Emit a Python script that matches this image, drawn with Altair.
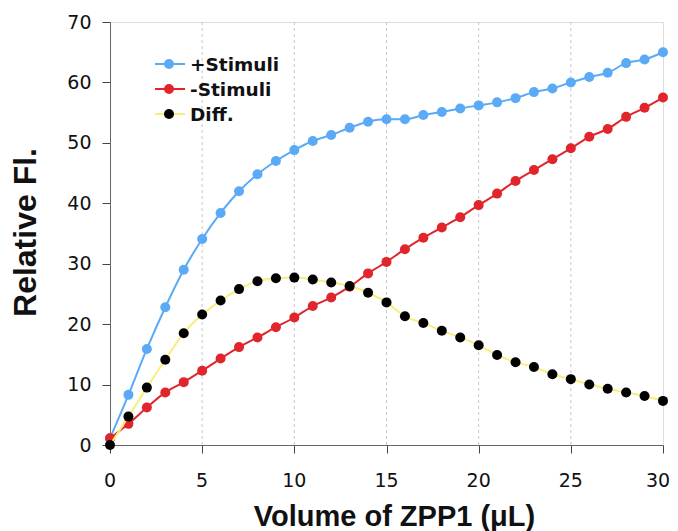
import altair as alt
import pandas as pd

x_vals = list(range(31))
plus_stimuli = [1.1, 8.3, 15.9, 22.8, 29.0, 34.1, 38.4, 42.0, 44.8, 47.0, 48.8, 50.3, 51.3, 52.5, 53.5, 53.9,
                53.9, 54.6, 55.1, 55.7, 56.2, 56.7, 57.4, 58.4, 59.0, 60.0, 60.9, 61.6, 63.2, 63.8, 65.0]
minus_stimuli = [1.1, 3.5, 6.2, 8.7, 10.4, 12.3, 14.3, 16.2, 17.8, 19.5, 21.1, 23.0, 24.4, 26.2, 28.4, 30.3,
                 32.4, 34.3, 36.0, 37.7, 39.7, 41.6, 43.7, 45.5, 47.3, 49.1, 51.0, 52.3, 54.3, 55.8, 57.5]
diff_vals = [0.0, 4.7, 9.5, 14.1, 18.5, 21.6, 23.9, 25.8, 27.1, 27.6, 27.7, 27.4, 26.9, 26.3, 25.2, 23.6,
             21.3, 20.2, 18.9, 17.8, 16.5, 14.9, 13.7, 12.9, 11.7, 10.9, 10.0, 9.3, 8.7, 8.1, 7.3]

series_names = ["+Stimuli", "-Stimuli", " Diff."]
series_values = [plus_stimuli, minus_stimuli, diff_vals]
line_colors = ["#5AAAF6", "#E0252C", "#F8EE7A"]
point_colors = ["#5AAAF6", "#E0252C", "#000000"]

x_ticks = [0, 5, 10, 15, 20, 25, 30]
y_ticks = [0, 10, 20, 30, 40, 50, 60, 70]
grid_x = [5, 10, 15, 20, 25]

rows = []
for name, vals in zip(series_names, series_values):
    for xv, yv in zip(x_vals, vals):
        rows.append({"x": xv, "y": yv, "series": name})
df = pd.DataFrame(rows)

x_scale = alt.Scale(domain=[0, 30], nice=False, zero=False)
y_scale = alt.Scale(domain=[0, 70], nice=False)

x_axis = alt.Axis(values=x_ticks, grid=False, tickSize=8, tickColor="#444444", domainColor="#666666",
                  labels=False,
                  title="Volume of ZPP1 (μL)", titleFont="Liberation Sans", titleFontSize=29,
                  titleFontWeight="bold", titleColor="#111111", titleX=284, titleY=80,
                  titleBaseline="alphabetic", titleAlign="center")
y_axis = alt.Axis(values=y_ticks, grid=False, tickSize=8, tickColor="#444444", domainColor="#666666",
                  labelFont="DejaVu Sans", labelFontSize=19, labelColor="#111111", labelPadding=11,
                  labelFlush=False, labelOverlap=False,
                  title="Relative Fl.", titleFont="Liberation Sans", titleFontSize=32,
                  titleFontWeight="bold", titleColor="#111111", titleAngle=270, titleX=-75, titleY=210,
                  titleBaseline="alphabetic", titleAlign="center")

grid_df = pd.DataFrame({"gx": grid_x})
grid = alt.Chart(grid_df).mark_rule(color="#c8c8c8", strokeDash=[3, 3], strokeWidth=1).encode(
    x=alt.X("gx:Q", scale=x_scale, axis=x_axis)
)

# x tick labels drawn as text so the last one stays inside the page
xlab_df = pd.DataFrame({"t": x_ticks})
xlabels = alt.Chart(xlab_df).mark_text(
    baseline="top", align="center", font="DejaVu Sans", fontSize=19, color="#111111",
    dx={"expr": "datum.t == 30 ? -5 : 0"}, clip=False
).encode(
    x=alt.X("t:Q", scale=x_scale, axis=x_axis),
    y=alt.value(450),
    text=alt.Text("t:Q", format="d"),
)

layers = [grid, xlabels]
for name, lc, pc in zip(series_names, line_colors, point_colors):
    sub = alt.Chart(df).transform_filter(alt.datum.series == name)
    line = sub.mark_line(color=lc, strokeWidth=2, interpolate="monotone", clip=False).encode(
        x=alt.X("x:Q", scale=x_scale, axis=x_axis),
        y=alt.Y("y:Q", scale=y_scale, axis=y_axis),
    )
    pts = sub.mark_point(filled=True, color=pc, size=100, opacity=1, clip=False).encode(
        x=alt.X("x:Q", scale=x_scale, axis=x_axis),
        y=alt.Y("y:Q", scale=y_scale, axis=y_axis),
    )
    layers += [line, pts]

# manual legend (inside plot area, top-left)
legend_y = [42, 67, 92]
for name, lc, pc, ly in zip(series_names, line_colors, point_colors, legend_y):
    lrule = alt.Chart(pd.DataFrame({"n": [name]})).mark_rule(color=lc, strokeWidth=2).encode(
        x=alt.value(45), x2=alt.value(75), y=alt.value(ly)
    )
    lpt = alt.Chart(pd.DataFrame({"n": [name]})).mark_point(filled=True, color=pc, size=100, opacity=1).encode(
        x=alt.value(59), y=alt.value(ly)
    )
    ltxt = alt.Chart(pd.DataFrame({"n": [name]})).mark_text(
        align="left", baseline="middle", font="DejaVu Sans", fontWeight="bold", fontSize=18.5, color="#111111"
    ).encode(x=alt.value(80), y=alt.value(ly + 1), text=alt.value(name))
    layers += [lrule, lpt, ltxt]

chart = alt.layer(*layers).properties(
    width=553,
    height=423,
    autosize=alt.AutoSizeParams(type="none"),
    padding={"left": 102, "top": 14, "right": 7, "bottom": 86},
).configure_view(stroke="#999999", strokeWidth=1).configure(background="white")

chart.save("out.html", embed_options={"renderer": "svg", "actions": False})
